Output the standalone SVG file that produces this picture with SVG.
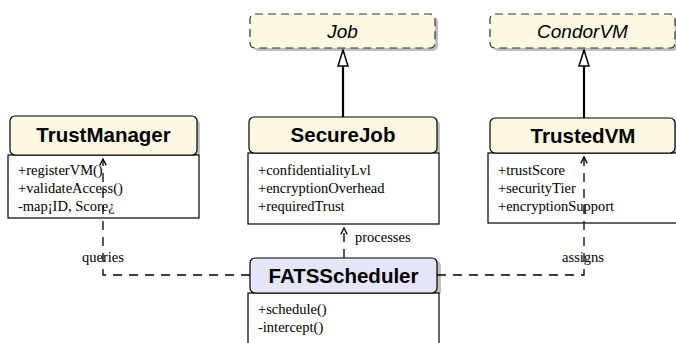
<svg xmlns="http://www.w3.org/2000/svg" width="676" height="343" viewBox="0 0 676 343">
  <defs>
    <marker id="open" viewBox="0 0 10 10" refX="9" refY="5" markerWidth="8" markerHeight="8" markerUnits="userSpaceOnUse" orient="auto">
      <path d="M1,1 L9,5 L1,9" fill="none" stroke="#000" stroke-width="1.6"/>
    </marker>
    <marker id="tri" viewBox="0 0 18 12" refX="17" refY="6" markerWidth="18" markerHeight="12" markerUnits="userSpaceOnUse" orient="auto">
      <path d="M1,1 L17,6 L1,11 Z" fill="#fff" stroke="#000" stroke-width="1.5"/>
    </marker>
  </defs>
  <style>
    .shadow { fill: #000; opacity: 0.25; }
    .hdr { fill: #fdf9e3; stroke: #000; stroke-width: 1.2; }
    .hdr2 { fill: #e6e6fb; stroke: #000; stroke-width: 1.2; }
    .abs { fill: #fdf9e3; stroke: #333; stroke-width: 1.2; stroke-dasharray: 8 5; }
    .mem { fill: #fff; stroke: #000; stroke-width: 1.2; }
    .title { font-family: "Liberation Sans", Arial, sans-serif; font-weight: bold; font-size: 20.5px; text-anchor: middle; fill: #000; }
    .atitle { font-family: "Liberation Sans", Arial, sans-serif; font-style: italic; font-size: 19px; text-anchor: middle; fill: #000; }
    .m { font-family: "Liberation Serif", "Times New Roman", serif; font-size: 14.5px; fill: #000; }
    .lbl { font-family: "Liberation Serif", "Times New Roman", serif; font-size: 14.5px; fill: #000; }
    .dep { fill: none; stroke: #000; stroke-width: 1.3; stroke-dasharray: 9 7; }
    .gen { fill: none; stroke: #000; stroke-width: 2.2; }
  </style>

  <!-- abstract classes -->
  <g id="job">
    <rect class="shadow" x="253" y="17" width="185" height="34" rx="5"/>
    <rect class="abs" x="250" y="14" width="185" height="34" rx="5"/>
    <text class="atitle" x="342.5" y="38">Job</text>
  </g>
  <g id="condorvm">
    <rect class="shadow" x="493" y="17" width="185" height="34" rx="5"/>
    <rect class="abs" x="490" y="14" width="185" height="34" rx="5"/>
    <text class="atitle" x="582.5" y="38">CondorVM</text>
  </g>

  <!-- TrustManager -->
  <g id="trustmanager">
    <rect class="shadow" x="13" y="119" width="187" height="38" rx="5"/>
    <rect class="mem" x="8" y="155" width="191" height="63"/>
    <rect class="hdr" x="10" y="116" width="187" height="39" rx="5"/>
    <text class="title" x="103.5" y="142">TrustManager</text>
    <text class="m" x="18" y="175">+registerVM()</text>
    <text class="m" x="18" y="193">+validateAccess()</text>
    <text class="m" x="18" y="211">-map¡ID, Score¿</text>
  </g>

  <!-- SecureJob -->
  <g id="securejob">
    <rect class="shadow" x="252" y="120" width="188" height="36" rx="5"/>
    <rect class="mem" x="248" y="153" width="191" height="71"/>
    <rect class="hdr" x="249" y="117" width="188" height="36" rx="5"/>
    <text class="title" x="343" y="142">SecureJob</text>
    <text class="m" x="258" y="175">+confidentialityLvl</text>
    <text class="m" x="258" y="193">+encryptionOverhead</text>
    <text class="m" x="258" y="211">+requiredTrust</text>
  </g>

  <!-- TrustedVM -->
  <g id="trustedvm">
    <rect class="shadow" x="493" y="121" width="190" height="35" rx="5"/>
    <rect class="mem" x="488" y="153" width="195" height="70"/>
    <rect class="hdr" x="490" y="118" width="185" height="35" rx="5"/>
    <text class="title" x="583" y="143">TrustedVM</text>
    <text class="m" x="498" y="175">+trustScore</text>
    <text class="m" x="498" y="193">+securityTier</text>
    <text class="m" x="498" y="211">+encryptionSupport</text>
  </g>

  <!-- FATSScheduler -->
  <g id="fatsscheduler">
    <rect class="shadow" x="253" y="261" width="188" height="35" rx="5"/>
    <rect class="mem" x="248" y="293" width="191" height="60"/>
    <rect class="hdr2" x="250" y="258" width="187" height="35" rx="5"/>
    <text class="title" x="343.5" y="283">FATSScheduler</text>
    <text class="m" x="258" y="314">+schedule()</text>
    <text class="m" x="258" y="332">-intercept()</text>
  </g>

  <!-- connectors -->
  <g id="connectors">
    <line class="gen" x1="343" y1="117" x2="343" y2="50" marker-end="url(#tri)"/>
    <line class="gen" x1="584" y1="118" x2="584" y2="50" marker-end="url(#tri)"/>
    <path class="dep" d="M250,275 H103 V159" marker-end="url(#open)"/>
    <path class="dep" d="M437,275 H584 V157" marker-end="url(#open)"/>
    <path class="dep" d="M344,258 V228" marker-end="url(#open)"/>
    <text class="lbl" x="355" y="242">processes</text>
    <text class="lbl" x="103" y="262" text-anchor="middle">queries</text>
    <text class="lbl" x="583" y="262" text-anchor="middle">assigns</text>
  </g>
</svg>
